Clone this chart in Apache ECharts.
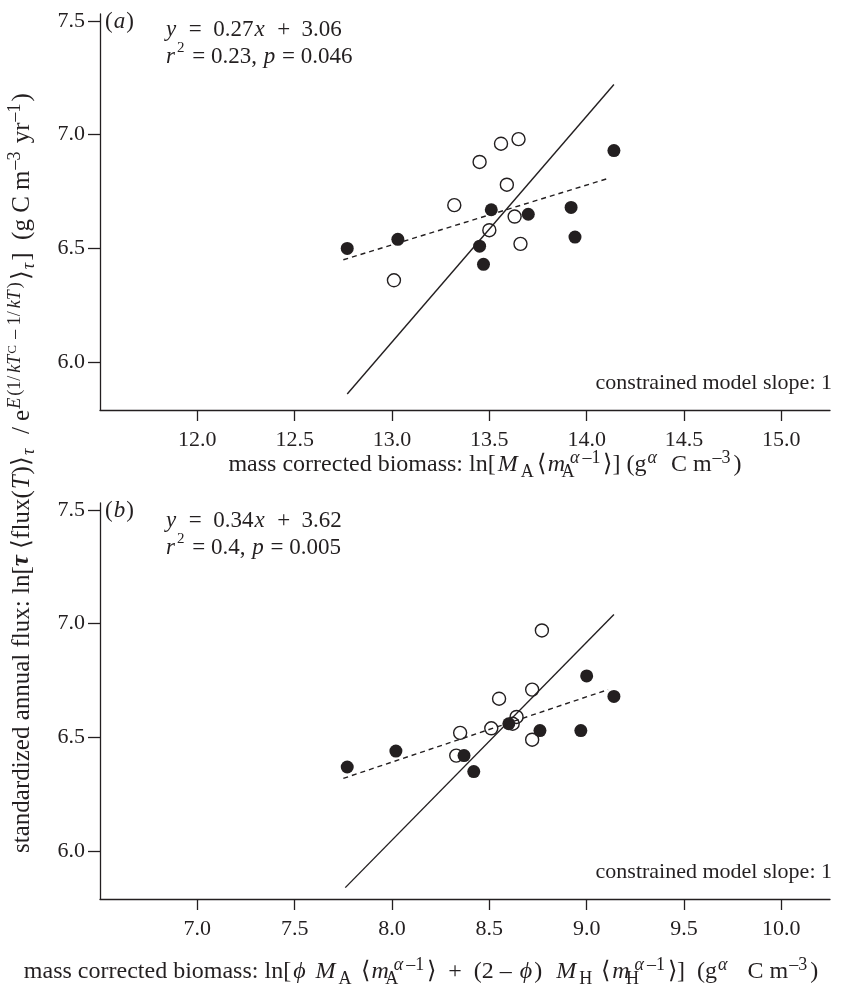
<!DOCTYPE html>
<html>
<head>
<meta charset="utf-8">
<script src="https://cdn.jsdelivr.net/npm/echarts@6/dist/echarts.min.js"></script>
<style>
  html, body { margin: 0; padding: 0; background: #fff; }
  #chart { width: 846px; height: 989px; }
</style>
</head>
<body>
<div id="chart"></div>
<script>
const FONT = "Liberation Serif";
const INK = "#231f20";

// panel (a): x = ln[M_A <m_A^(a-1)>]
const aFilled = [[12.77, 6.50], [13.03, 6.54], [13.51, 6.67], [13.45, 6.51], [13.47, 6.43],
                 [13.70, 6.65], [13.92, 6.68], [13.94, 6.55], [14.14, 6.93]];
const aOpen = [[13.01, 6.36], [13.32, 6.69], [13.45, 6.88], [13.56, 6.96], [13.65, 6.98],
               [13.59, 6.78], [13.63, 6.64], [13.50, 6.58], [13.66, 6.52]];
const aSlopeOne = [[12.77, 5.86], [14.14, 7.22]];
const aFit = [[12.75, 6.45], [14.12, 6.81]];

// panel (b): x = ln[phi M_A <..> + (2 - phi) M_H <..>]
const bFilled = [[7.77, 6.37], [8.02, 6.44], [8.37, 6.42], [8.42, 6.35], [8.60, 6.56],
                 [8.76, 6.53], [8.97, 6.53], [9.00, 6.77], [9.14, 6.68]];
const bOpen = [[8.77, 6.97], [8.72, 6.71], [8.55, 6.67], [8.64, 6.59], [8.62, 6.56],
               [8.51, 6.54], [8.35, 6.52], [8.33, 6.42], [8.72, 6.49]];
const bSlopeOne = [[7.76, 5.84], [9.14, 7.04]];
const bFit = [[7.75, 6.32], [9.11, 6.71]];

const yTicks = [6.0, 6.5, 7.0, 7.5];
const xTicksA = [12.0, 12.5, 13.0, 13.5, 14.0, 14.5, 15.0];
const xTicksB = [7.0, 7.5, 8.0, 8.5, 9.0, 9.5, 10.0];

function mk(size, extra) {
  return Object.assign({ fontFamily: FONT, fontSize: size, color: INK, fill: INK }, extra);
}
function richSet(base, small, pad) {
  return {
    i: mk(base, { fontStyle: "italic", lineHeight: 32, padding: [0, pad, 0, pad] }),
    bi: mk(base, { fontStyle: "italic", fontWeight: "bold", lineHeight: 32 }),
    sub: mk(small, { lineHeight: small, verticalAlign: "bottom", padding: [0, pad + 1, 0, 1] }),
    subi: mk(small, { fontStyle: "italic", lineHeight: small, verticalAlign: "bottom", padding: [0, pad + 1, 0, 1] }),
    subs: mk(small, { lineHeight: small, verticalAlign: "bottom", width: 2 }),
    sup: mk(small, { lineHeight: small, verticalAlign: "top", padding: [0, pad + 1, 0, 1] }),
    supi: mk(small, { fontStyle: "italic", lineHeight: small, verticalAlign: "top", padding: [0, pad, 0, 1] }),
    tiny: mk(small - 5, { lineHeight: small + 8, verticalAlign: "top", padding: [0, 1, 0, 0] })
  };
}

function txt(x, y, text, align, size, small, pad) {
  size = size || 22;
  return {
    type: "text", x: x, y: y, silent: true,
    style: Object.assign(mk(size, { lineHeight: 32 }), {
      text: text, align: align || "left", verticalAlign: "middle",
      rich: richSet(size, small || 15, pad == null ? 1 : pad)
    })
  };
}

const eqA1 = "{i|y}  =  0.27{i|x}  +  3.06";
const eqA2 = "{i|r}{sup|2} = 0.23, {i|p} = 0.046";
const eqB1 = "{i|y}  =  0.34{i|x}  +  3.62";
const eqB2 = "{i|r}{sup|2} = 0.4, {i|p} = 0.005";
const xTitleA = "mass corrected biomass: ln[{i|M}{sub|A}⟨{i|m}{subs|A}{supi|α}{sup|–1}⟩] (g{supi|α}  C m{sup|–3})";
const xTitleB = "mass corrected biomass: ln[{i|ϕ} {i|M}{sub|A} ⟨{i|m}{subs|A}{supi|α}{sup|–1}⟩  +  (2 – {i|ϕ})  {i|M}{sub|H} ⟨{i|m}{subs|H}{supi|α}{sup|–1}⟩]  (g{supi|α}   C m{sup|–3})";
const yTitle = "standardized annual flux: ln[{bi|τ} ⟨flux({i|T})⟩{subi|τ}  / e{supi|E}{sup|(1/}{supi|kT}{tiny|C}{sup| – 1/}{supi|kT}{sup|)}⟩{subi|τ}]  (g C m{sup|–3} yr{sup|–1})";

function xAxis(idx, min, max, ticks) {
  return {
    gridIndex: idx, type: "value", min: min, max: max,
    axisLine: { onZero: false, lineStyle: { color: INK, width: 1.3 } },
    axisTick: { customValues: ticks, length: 11, lineStyle: { color: INK, width: 1.3 } },
    axisLabel: { customValues: ticks, formatter: v => v.toFixed(1), margin: 19,
                 fontFamily: FONT, fontSize: 22, color: INK },
    splitLine: { show: false }
  };
}
function yAxis(idx) {
  return {
    gridIndex: idx, type: "value", min: 5.79, max: 7.53,
    axisLine: { show: true, onZero: false, lineStyle: { color: INK, width: 1.3 } },
    axisTick: { show: true, customValues: yTicks, length: 12, lineStyle: { color: INK, width: 1.3 } },
    axisLabel: { customValues: yTicks, formatter: v => v.toFixed(1), margin: 15,
                 fontFamily: FONT, fontSize: 22, color: INK },
    splitLine: { show: false }
  };
}
function panelSeries(idx, slopeOne, fit, open, filled) {
  return [
    { type: "line", xAxisIndex: idx, yAxisIndex: idx, data: slopeOne, symbol: "none",
      lineStyle: { color: INK, width: 1.4 } },
    { type: "line", xAxisIndex: idx, yAxisIndex: idx, data: fit, symbol: "none",
      lineStyle: { color: INK, width: 1.4, type: [5, 4] } },
    { type: "scatter", xAxisIndex: idx, yAxisIndex: idx, data: open, symbolSize: 13,
      itemStyle: { color: "rgba(0,0,0,0)", borderColor: INK, borderWidth: 1.4, opacity: 1 } },
    { type: "scatter", xAxisIndex: idx, yAxisIndex: idx, data: filled, symbolSize: 13,
      itemStyle: { color: INK, opacity: 1 } }
  ];
}

const chart = echarts.init(document.getElementById("chart"), null, { renderer: "canvas" });
chart.setOption({
  animation: false,
  backgroundColor: "#fff",
  grid: [
    { left: 100, top: 14, width: 730, height: 396 },
    { left: 100, top: 503, width: 730, height: 396 }
  ],
  xAxis: [xAxis(0, 11.5, 15.25, xTicksA), xAxis(1, 6.5, 10.25, xTicksB)],
  yAxis: [yAxis(0), yAxis(1)],
  series: [].concat(
    panelSeries(0, aSlopeOne, aFit, aOpen, aFilled),
    panelSeries(1, bSlopeOne, bFit, bOpen, bFilled)
  ),
  graphic: [
    txt(105, 22, "({i|a})", "left", 23),
    txt(165, 30, eqA1, "left", 23),
    txt(165, 57, eqA2, "left", 23),
    txt(832, 383, "constrained model slope: 1", "right", 22),
    txt(485, 465, xTitleA, "center", 24, 18, 2),
    txt(105, 511, "({i|b})", "left", 23),
    txt(165, 521, eqB1, "left", 23),
    txt(165, 548, eqB2, "left", 23),
    txt(832, 872, "constrained model slope: 1", "right", 22),
    txt(421, 972, xTitleB, "center", 24, 18, 2),
    Object.assign(txt(22, 473, yTitle, "center", 25, 18, 1), { rotation: Math.PI / 2 })
  ]
});
</script>
</body>
</html>
